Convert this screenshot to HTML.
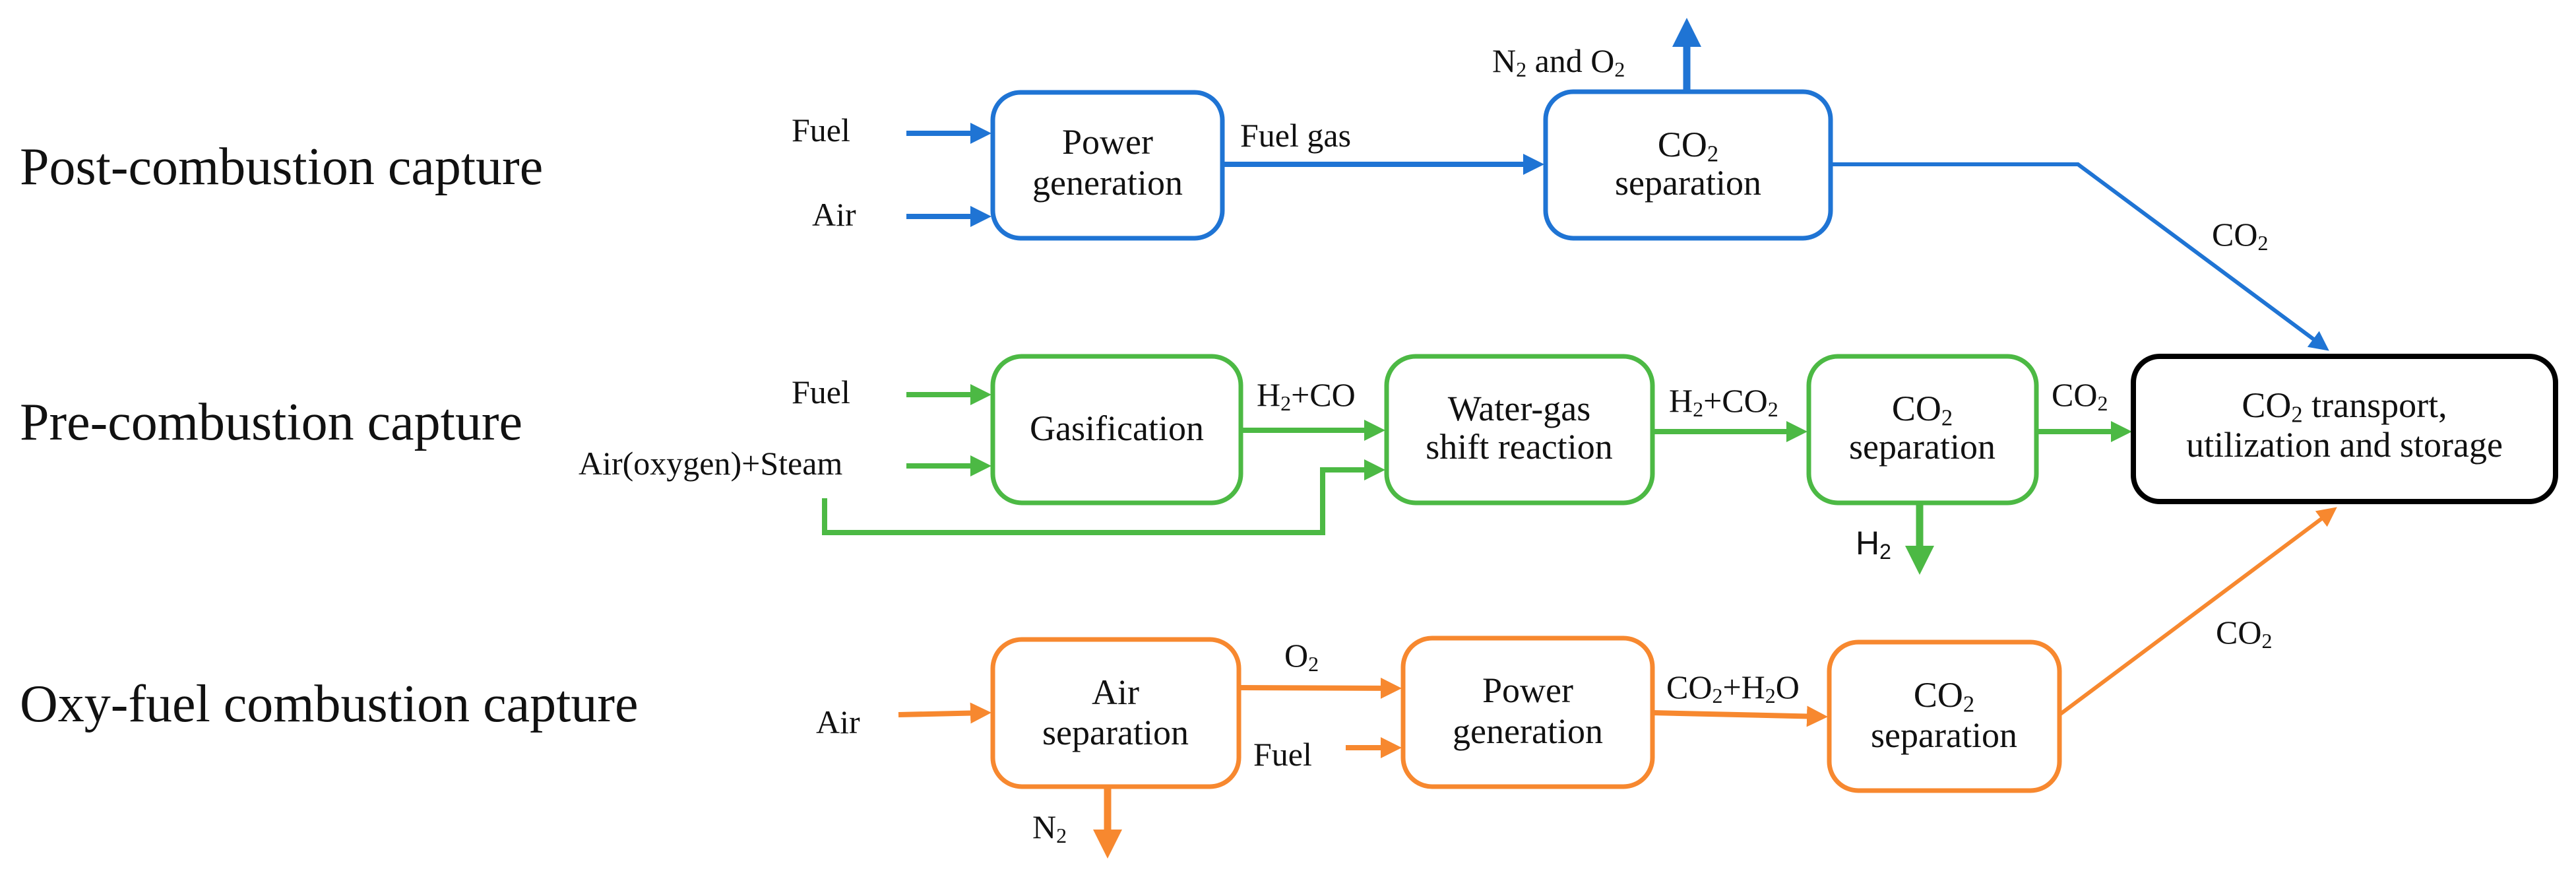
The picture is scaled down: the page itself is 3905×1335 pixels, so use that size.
<!DOCTYPE html>
<html><head><meta charset="utf-8"><style>
html,body{margin:0;padding:0;background:#fff;}
#w{position:relative;width:3905px;height:1335px;overflow:hidden;}
svg{display:block;position:absolute;left:0;top:0;}
.t{position:absolute;font-family:"Liberation Serif","Times New Roman",serif;color:#111;line-height:1;white-space:nowrap;}
.f80{font-size:80px;}
.f50{font-size:50px;}
.f54{font-size:54px;width:600px;text-align:center;}
.s{font-size:0.64em;vertical-align:-0.22em;}
.sans{font-family:"Liberation Sans",sans-serif;}
</style></head><body><div id="w">
<svg width="3905" height="1335" viewBox="0 0 3905 1335" xmlns="http://www.w3.org/2000/svg">
<defs>
<marker id="ab" markerWidth="4" markerHeight="4" refX="3" refY="2" orient="auto" markerUnits="strokeWidth"><path d="M0,0 L4,2 L0,4 z" fill="#1f74d4"/></marker>
<marker id="ag" markerWidth="4" markerHeight="4" refX="3" refY="2" orient="auto" markerUnits="strokeWidth"><path d="M0,0 L4,2 L0,4 z" fill="#4cb944"/></marker>
<marker id="ao" markerWidth="4" markerHeight="4" refX="3" refY="2" orient="auto" markerUnits="strokeWidth"><path d="M0,0 L4,2 L0,4 z" fill="#f7882f"/></marker>
<marker id="abs" markerWidth="5" markerHeight="5" refX="4" refY="2.5" orient="auto" markerUnits="strokeWidth"><path d="M0,0 L5,2.5 L0,5 z" fill="#1f74d4"/></marker>
<marker id="aos" markerWidth="5" markerHeight="5" refX="4" refY="2.5" orient="auto" markerUnits="strokeWidth"><path d="M0,0 L5,2.5 L0,5 z" fill="#f7882f"/></marker>
</defs>
<g fill="none" stroke="#1f74d4" stroke-width="7">
<rect x="1505" y="140" width="348" height="221" rx="42"/>
<rect x="2343" y="139" width="432" height="222" rx="42"/>
</g>
<g stroke="#1f74d4" stroke-width="8" fill="none">
<line x1="1374" y1="202" x2="1495" y2="202" marker-end="url(#ab)"/>
<line x1="1374" y1="328" x2="1495" y2="328" marker-end="url(#ab)"/>
<line x1="1853" y1="249" x2="2333" y2="249" marker-end="url(#ab)"/>
<line x1="2557" y1="139" x2="2557" y2="38" stroke-width="11" marker-end="url(#ab)"/>
<polyline points="2775,249 3150,249 3526,528" stroke-width="6" marker-end="url(#abs)"/>
</g>
<g fill="none" stroke="#4cb944" stroke-width="7">
<rect x="1505" y="540" width="376" height="222" rx="44"/>
<rect x="2102" y="540" width="403" height="222" rx="44"/>
<rect x="2742" y="540" width="345" height="222" rx="44"/>
</g>
<g stroke="#4cb944" stroke-width="8" fill="none">
<line x1="1374" y1="598" x2="1495" y2="598" marker-end="url(#ag)"/>
<line x1="1374" y1="706" x2="1495" y2="706" marker-end="url(#ag)"/>
<line x1="1881" y1="652" x2="2092" y2="652" marker-end="url(#ag)"/>
<polyline points="1250,755 1250,807 2005,807 2005,712 2092,712" marker-end="url(#ag)"/>
<line x1="2505" y1="654" x2="2732" y2="654" marker-end="url(#ag)"/>
<line x1="3087" y1="654" x2="3224" y2="654" marker-end="url(#ag)"/>
<line x1="2910" y1="762" x2="2910" y2="860" stroke-width="11" marker-end="url(#ag)"/>
</g>
<rect x="3234" y="540" width="640" height="220" rx="40" fill="none" stroke="#000" stroke-width="8"/>
<g fill="none" stroke="#f7882f" stroke-width="7">
<rect x="1505" y="969" width="373" height="223" rx="44"/>
<rect x="2127" y="967" width="378" height="225" rx="44"/>
<rect x="2773" y="973" width="349" height="225" rx="44"/>
</g>
<g stroke="#f7882f" stroke-width="8" fill="none">
<line x1="1362" y1="1083" x2="1495" y2="1080" marker-end="url(#ao)"/>
<line x1="1878" y1="1042" x2="2117" y2="1043" marker-end="url(#ao)"/>
<line x1="2040" y1="1133" x2="2117" y2="1133" marker-end="url(#ao)"/>
<line x1="2505" y1="1080" x2="2763" y2="1086" marker-end="url(#ao)"/>
<line x1="1679" y1="1192" x2="1679" y2="1290" stroke-width="11" marker-end="url(#ao)"/>
<line x1="3122" y1="1083" x2="3538" y2="772" stroke-width="6" marker-end="url(#aos)"/>
</g>
</svg>

<!-- Titles -->
<div class="t f80" style="left:30px;top:213px">Post-combustion capture</div>
<div class="t f80" style="left:30px;top:600px">Pre-combustion capture</div>
<div class="t f80" style="left:30px;top:1027px">Oxy-fuel combustion capture</div>

<!-- Labels -->
<div class="t f50" style="left:1200px;top:172px">Fuel</div>
<div class="t f50" style="left:1231px;top:300px">Air</div>
<div class="t f50" style="left:1880px;top:180px">Fuel gas</div>
<div class="t f50" style="left:2262px;top:67px">N<span class="s">2</span> and O<span class="s">2</span></div>
<div class="t f50" style="left:3353px;top:330px">CO<span class="s">2</span></div>
<div class="t f50" style="left:1200px;top:569px">Fuel</div>
<div class="t f50" style="left:877px;top:677px">Air(oxygen)+Steam</div>
<div class="t f50" style="left:1905px;top:573px">H<span class="s">2</span>+CO</div>
<div class="t f50" style="left:2530px;top:582px">H<span class="s">2</span>+CO<span class="s">2</span></div>
<div class="t f50" style="left:3110px;top:573px">CO<span class="s">2</span></div>
<div class="t f50 sans" style="left:2813px;top:798px">H<span class="s">2</span></div>
<div class="t f50" style="left:1237px;top:1069px">Air</div>
<div class="t f50" style="left:1565px;top:1228px">N<span class="s">2</span></div>
<div class="t f50" style="left:1947px;top:968px">O<span class="s">2</span></div>
<div class="t f50" style="left:1900px;top:1118px">Fuel</div>
<div class="t f50" style="left:2526px;top:1016px">CO<span class="s">2</span>+H<span class="s">2</span>O</div>
<div class="t f50" style="left:3359px;top:933px">CO<span class="s">2</span></div>

<!-- Box text -->
<div class="t f54" style="left:1379px;top:188px">Power</div>
<div class="t f54" style="left:1379px;top:250px">generation</div>
<div class="t f54" style="left:2259px;top:192px">CO<span class="s">2</span></div>
<div class="t f54" style="left:2259px;top:250px">separation</div>
<div class="t f54" style="left:1393px;top:622px">Gasification</div>
<div class="t f54" style="left:2003px;top:592px">Water-gas</div>
<div class="t f54" style="left:2003px;top:650px">shift reaction</div>
<div class="t f54" style="left:2614px;top:592px">CO<span class="s">2</span></div>
<div class="t f54" style="left:2614px;top:650px">separation</div>
<div class="t f54" style="left:3254px;top:587px">CO<span class="s">2</span> transport,</div>
<div class="t f54" style="left:3254px;top:647px">utilization and storage</div>
<div class="t f54" style="left:1391px;top:1022px">Air</div>
<div class="t f54" style="left:1391px;top:1083px">separation</div>
<div class="t f54" style="left:2016px;top:1019px">Power</div>
<div class="t f54" style="left:2016px;top:1081px">generation</div>
<div class="t f54" style="left:2647px;top:1026px">CO<span class="s">2</span></div>
<div class="t f54" style="left:2647px;top:1087px">separation</div>
</div></body></html>
